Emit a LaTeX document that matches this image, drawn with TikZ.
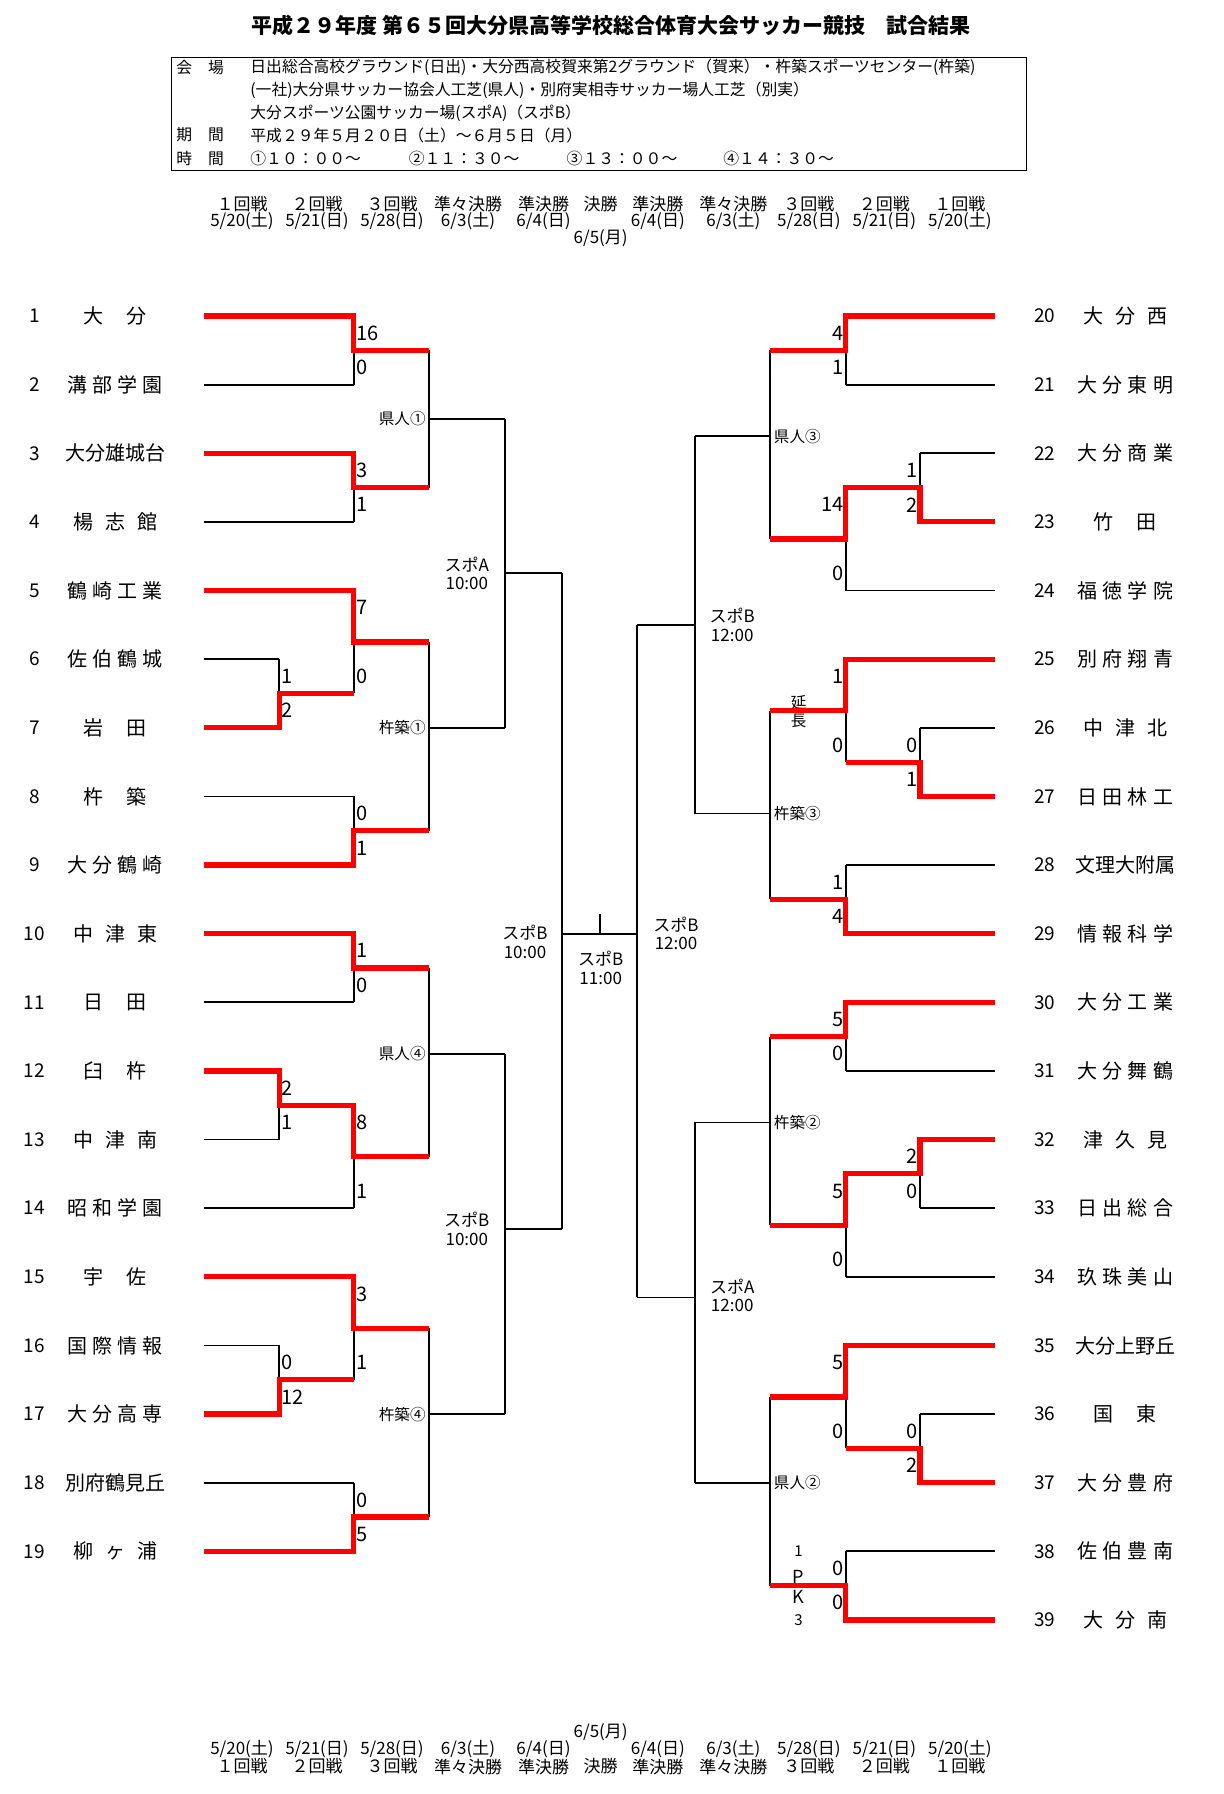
\documentclass[tikz,border=0pt]{standalone}
\usepackage{fontspec}
\setmainfont{Noto Sans CJK JP}
\usetikzlibrary{positioning}

\begin{document}
\begin{tikzpicture}[x=0.5pt,y=-0.5pt,
  bk/.style={line width=0.9pt},
  win/.style={draw=red,line width=2.6pt,line join=miter},
  sc/.style={font=\fontsize{10}{10}\selectfont,inner sep=1pt},
  vn/.style={font=\fontsize{7.8}{8}\selectfont,inner sep=1pt},
  tm/.style={font=\fontsize{10}{10}\selectfont,inner sep=0pt},
  no/.style={font=\fontsize{9.5}{10}\selectfont,inner sep=0pt},
  hd/.style={font=\fontsize{8.5}{10}\selectfont,inner sep=0pt},
  tv/.style={font=\fontsize{8.5}{9.2}\selectfont,align=center,inner sep=0pt},
  bx/.style={font=\fontsize{7.9}{8}\selectfont,anchor=west,inner sep=0pt}]
  \useasboundingbox (0,0) rectangle (1223,1794);
  % ---------- title and venue box
  \node[font=\fontsize{10.5}{11}\selectfont\bfseries] (title) at (611,25)
    {平成２９年度 第６５回大分県高等学校総合体育大会サッカー競技　試合結果};
  \draw[line width=0.7pt] (171.6,57.2) rectangle (1026.3,170.5);
  \node[bx] (kaijo) at (176,67.5) {会　場};
  \node[bx] (ven1) at (250,67.5) {日出総合高校グラウンド(日出)・大分西高校賀来第2グラウンド（賀来）・杵築スポーツセンター(杵築)};
  \node[bx] (ven2) at (250,90.4) {(一社)大分県サッカー協会人工芝(県人)・別府実相寺サッカー場人工芝（別実）};
  \node[bx] (ven3) at (250,113.3) {大分スポーツ公園サッカー場(スポA)（スポB）};
  \node[bx] (kikan) at (176,135) {期　間};
  \node[bx] (days) at (250,135) {平成２９年５月２０日（土）～６月５日（月）};
  \node[bx] (jikan) at (176,158) {時　間};
  \foreach \x/\t [count=\i] in {250/①１０：００～,408.4/②１１：３０～,566.3/③１３：００～,723/④１４：３０～}
    \node[bx] (time\i) at (\x,158) {\t};
  % ---------- round headers, top and bottom
  \foreach \x/\r/\d [count=\i] in {242/１回戦/{5/20(土)},317/２回戦/{5/21(日)},392/３回戦/{5/28(日)},
      468/準々決勝/{6/3(土)},543.5/準決勝/{6/4(日)},657.9/準決勝/{6/4(日)},733.4/準々決勝/{6/3(土)},
      808.9/３回戦/{5/28(日)},884.4/２回戦/{5/21(日)},959.9/１回戦/{5/20(土)}}{
    \node[hd] (rt\i) at (\x,203.7) {\r};
    \node[hd] (dt\i) at (\x,220.8) {\d};
    \node[hd] (db\i) at (\x,1749.4) {\d};
    \node[hd] (rb\i) at (\x,1766.5) {\r};}
  \node[hd] (rtf) at (600.7,203.7) {決勝};
  \node[hd] (dtf) at (600.7,238) {6/5(月)};
  \node[hd] (dbf) at (600.7,1732) {6/5(月)};
  \node[hd] (rbf) at (600.7,1766.5) {決勝};
  % ---------- bracket, one row per team
  \begin{scope}[shift={(0,316)},y=-34.315pt]
    \foreach \k/\w/\s in {1/31.5/大\hfill 分,2/48/溝\hfill 部\hfill 学\hfill 園,3/51/大分雄城台,
        4/42/楊\hfill 志\hfill 館,5/48/鶴\hfill 崎\hfill 工\hfill 業,6/48/佐\hfill 伯\hfill 鶴\hfill 城,
        7/31.5/岩\hfill 田,8/31.5/杵\hfill 築,9/48/大\hfill 分\hfill 鶴\hfill 崎,10/42/中\hfill 津\hfill 東,
        11/31.5/日\hfill 田,12/31.5/臼\hfill 杵,13/42/中\hfill 津\hfill 南,14/48/昭\hfill 和\hfill 学\hfill 園,
        15/31.5/宇\hfill 佐,16/48/国\hfill 際\hfill 情\hfill 報,17/48/大\hfill 分\hfill 高\hfill 専,
        18/51/別府鶴見丘,19/42/柳\hfill ヶ\hfill 浦}{
      \node[no] (nL\k) at (34.5,{\k-1}) {\k};
      \node[tm] (tL\k) at (115,{\k-1}) {\makebox[\w pt]{\s}};}
    \foreach \k/\w/\s in {20/42/大\hfill 分\hfill 西,21/48/大\hfill 分\hfill 東\hfill 明,22/48/大\hfill 分\hfill 商\hfill 業,
        23/31.5/竹\hfill 田,24/48/福\hfill 徳\hfill 学\hfill 院,25/48/別\hfill 府\hfill 翔\hfill 青,
        26/42/中\hfill 津\hfill 北,27/48/日\hfill 田\hfill 林\hfill 工,28/51/文理大附属,
        29/48/情\hfill 報\hfill 科\hfill 学,30/48/大\hfill 分\hfill 工\hfill 業,31/48/大\hfill 分\hfill 舞\hfill 鶴,
        32/42/津\hfill 久\hfill 見,33/48/日\hfill 出\hfill 総\hfill 合,34/48/玖\hfill 珠\hfill 美\hfill 山,
        35/51/大分上野丘,36/31.5/国\hfill 東,37/48/大\hfill 分\hfill 豊\hfill 府,
        38/48/佐\hfill 伯\hfill 豊\hfill 南,39/42/大\hfill 分\hfill 南}{
      \node[no] (nR\k) at (1044.6,{\k-20}) {\k};
      \node[tm] (tR\k) at (1125.3,{\k-20}) {\makebox[\w pt]{\s}};}
    % team lines
    \foreach \k in {1,2,3,4,5,8,9,10,11,14,15,18,19}
      \draw[bk] (204.2,{\k-1}) -- (353.6,{\k-1});
    \foreach \k in {6,7,12,13,16,17}
      \draw[bk] (204.2,{\k-1}) -- (279.2,{\k-1});
    \foreach \k in {20,21,24,25,28,29,30,31,34,35,38,39}
      \draw[bk] (994.9,{\k-20}) -- (845.6,{\k-20});
    \foreach \k in {22,23,26,27,32,33,36,37}
      \draw[bk] (994.9,{\k-20}) -- (919.9,{\k-20});
    % 1st and 2nd round joins with scores
    \foreach \x/\a/\b/\o/\p/\q [count=\i] in {279.2/5/6/353.6/1/2,279.2/11/12/353.6/2/1,279.2/15/16/353.6/0/12,
        353.6/0/1/429.1/16/0,353.6/2/3/429.1/3/1,353.6/4/5.5/429.1/7/0,353.6/7/8/429.1/0/1,
        353.6/9/10/429.1/1/0,353.6/11.5/13/429.1/8/1,353.6/14/15.5/429.1/3/1,353.6/17/18/429.1/0/5}{
      \draw[bk] (\x,\a) -- (\x,\b) (\x,{(\a+\b)/2}) -- (\o,{(\a+\b)/2});
      \node[sc,anchor=west] (sLa\i) at (\x,{\a+0.25}) {\p};
      \node[sc,anchor=west] (sLb\i) at (\x,{\b-0.25}) {\q};}
    \foreach \x/\a/\b/\o/\p/\q [count=\i] in {919.9/2/3/845.6/1/2,919.9/6/7/845.6/0/1,919.9/12/13/845.6/2/0,
        919.9/16/17/845.6/0/2,845.6/0/1/770.1/4/1,845.6/2.5/4/770.1/14/0,845.6/5/6.5/770.1/1/0,
        845.6/8/9/770.1/1/4,845.6/10/11/770.1/5/0,845.6/12.5/14/770.1/5/0,845.6/15/16.5/770.1/5/0,
        845.6/18/19/770.1/0/0}{
      \draw[bk] (\x,\a) -- (\x,\b) (\x,{(\a+\b)/2}) -- (\o,{(\a+\b)/2});
      \node[sc,anchor=east] (sRa\i) at (\x,{\a+0.25}) {\p};
      \node[sc,anchor=east] (sRb\i) at (\x,{\b-0.25}) {\q};}
    % 3rd round joins with grounds
    \foreach \a/\b/\m/\g [count=\i] in {0.5/2.5/1.5/県人①,4.75/7.5/6/杵築①,9.5/12.25/10.75/県人④,14.75/17.5/16/杵築④}{
      \draw[bk] (429.1,\a) -- (429.1,\b) (429.1,\m) -- (504.6,\m);
      \node[vn,anchor=east] (gL\i) at (428,\m) {\g};}
    \foreach \a/\b/\m/\g [count=\i] in {0.5/3.25/1.75/県人③,5.75/8.5/7.25/杵築③,10.5/13.25/11.75/杵築②,15.75/18.5/17/県人②}{
      \draw[bk] (770.1,\a) -- (770.1,\b) (770.1,\m) -- (694.6,\m);
      \node[vn,anchor=west] (gR\i) at (771.5,\m) {\g};}
    % quarter finals, semi finals, final
    \draw[bk] (504.6,1.5) -- (504.6,6) (504.6,3.75) -- (561.85,3.75);
    \draw[bk] (504.6,10.75) -- (504.6,16) (504.6,13.3) -- (561.85,13.3);
    \draw[bk] (694.6,1.75) -- (694.6,7.25) (694.6,4.5) -- (637.3,4.5);
    \draw[bk] (694.6,11.75) -- (694.6,17) (694.6,14.3) -- (637.3,14.3);
    \draw[bk] (561.85,3.75) -- (561.85,13.3);
    \draw[bk] (637.3,4.5) -- (637.3,14.3);
    \draw[bk] (561.85,9) -- (637.3,9);
    \draw[bk] (599.6,8.72) -- (599.6,9);
    \node[tv] (qfL1) at (466.8,3.75) {スポA\\10:00};
    \node[tv] (qfL2) at (466.8,13.3) {スポB\\10:00};
    \node[tv] (sfL) at (525,9.12) {スポB\\10:00};
    \node[tv] (fin) at (600.7,9.5) {スポB\\11:00};
    \node[tv] (sfR) at (676,9) {スポB\\12:00};
    \node[tv] (qfR1) at (732.2,4.5) {スポB\\12:00};
    \node[tv] (qfR2) at (732.2,14.27) {スポA\\12:00};
    % extra time and penalties
    \node[font=\fontsize{7.8}{9}\selectfont,align=center,inner sep=0pt] (ext) at (798.6,5.77) {延\\長};
    \node[font=\fontsize{7.5}{7.5}\selectfont,inner sep=0pt] (pk1) at (798.6,18) {1};
    \node[font=\fontsize{9}{9}\selectfont,inner sep=0pt] (pkP) at (798.6,18.37) {P};
    \node[font=\fontsize{9}{9}\selectfont,inner sep=0pt] (pkK) at (798.6,18.66) {K};
    \node[font=\fontsize{7.5}{7.5}\selectfont,inner sep=0pt] (pk3) at (798.6,19) {3};
    % ---------- winners, left side
    \draw[win] (204.2,0) -- (353.6,0) -- (353.6,0.5) -- (429.1,0.5);
    \draw[win] (204.2,2) -- (353.6,2) -- (353.6,2.5) -- (429.1,2.5);
    \draw[win] (204.2,4) -- (353.6,4) -- (353.6,4.75) -- (429.1,4.75);
    \draw[win] (204.2,6) -- (279.2,6) -- (279.2,5.5) -- (353.6,5.5);
    \draw[win] (204.2,8) -- (353.6,8) -- (353.6,7.5) -- (429.1,7.5);
    \draw[win] (204.2,9) -- (353.6,9) -- (353.6,9.5) -- (429.1,9.5);
    \draw[win] (204.2,11) -- (279.2,11) -- (279.2,11.5) -- (353.6,11.5) -- (353.6,12.25) -- (429.1,12.25);
    \draw[win] (204.2,14) -- (353.6,14) -- (353.6,14.75) -- (429.1,14.75);
    \draw[win] (204.2,16) -- (279.2,16) -- (279.2,15.5) -- (353.6,15.5);
    \draw[win] (204.2,18) -- (353.6,18) -- (353.6,17.5) -- (429.1,17.5);
    % ---------- winners, right side
    \draw[win] (994.9,0) -- (845.6,0) -- (845.6,0.5) -- (770.1,0.5);
    \draw[win] (994.9,3) -- (919.9,3) -- (919.9,2.5) -- (845.6,2.5) -- (845.6,3.25) -- (770.1,3.25);
    \draw[win] (994.9,5) -- (845.6,5) -- (845.6,5.75) -- (770.1,5.75);
    \draw[win] (994.9,7) -- (919.9,7) -- (919.9,6.5) -- (845.6,6.5);
    \draw[win] (994.9,9) -- (845.6,9) -- (845.6,8.5) -- (770.1,8.5);
    \draw[win] (994.9,10) -- (845.6,10) -- (845.6,10.5) -- (770.1,10.5);
    \draw[win] (994.9,12) -- (919.9,12) -- (919.9,12.5) -- (845.6,12.5) -- (845.6,13.25) -- (770.1,13.25);
    \draw[win] (994.9,15) -- (845.6,15) -- (845.6,15.75) -- (770.1,15.75);
    \draw[win] (994.9,17) -- (919.9,17) -- (919.9,16.5) -- (845.6,16.5);
    \draw[win] (994.9,19) -- (845.6,19) -- (845.6,18.5) -- (770.1,18.5);
  \end{scope}
\end{tikzpicture}
\end{document}
